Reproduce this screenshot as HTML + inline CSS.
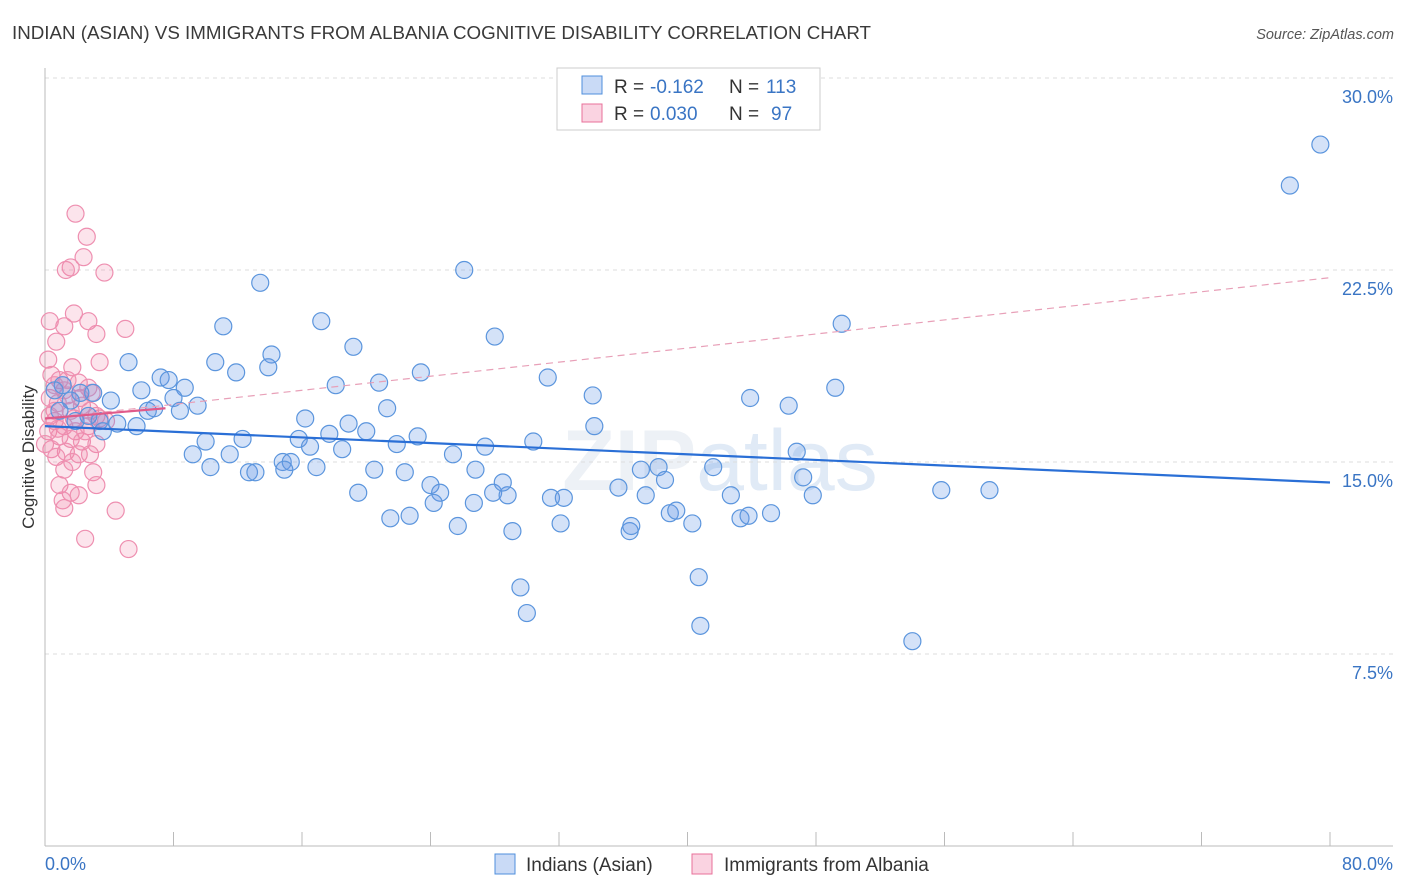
<!DOCTYPE html>
<html><head><meta charset="utf-8"><style>
body{margin:0;background:#fff;font-family:"Liberation Sans",sans-serif;}
svg{display:block}
</style></head><body>
<svg id="chart" width="1406" height="892" xmlns="http://www.w3.org/2000/svg" font-family="Liberation Sans, sans-serif">
<text x="12" y="39" font-size="18" fill="#3a3a3a" textLength="859" lengthAdjust="spacingAndGlyphs">INDIAN (ASIAN) VS IMMIGRANTS FROM ALBANIA COGNITIVE DISABILITY CORRELATION CHART</text>
<text x="1394" y="39" font-size="14.5" fill="#555" font-style="italic" text-anchor="end">Source: ZipAtlas.com</text>
<text x="720" y="490" font-size="86" fill="#edf1f6" text-anchor="middle" font-weight="bold">ZIP<tspan font-weight="normal" fill="#e0eaf6">atlas</tspan></text>
<g id="grid"></g>
<g id="axes"></g>
<g id="pinkpts"></g>
<g id="bluepts"></g>
<g id="trends"></g>
<g>
<rect x="557" y="68" width="263" height="62" fill="#fff" stroke="#ccc"/>
<rect x="582" y="76" width="20" height="18" fill="rgba(100,150,230,0.35)" stroke="#4f8fdc"/>
<rect x="582" y="104" width="20" height="18" fill="rgba(240,130,170,0.35)" stroke="#e8709a"/>
<text x="614" y="93" font-size="19" fill="#333">R = </text><text x="650" y="93" font-size="19" fill="#3a75c4">-0.162</text>
<text x="729" y="93" font-size="19" fill="#333">N = </text><text x="766" y="93" font-size="19" fill="#3a75c4">113</text>
<text x="614" y="120" font-size="19" fill="#333">R = </text><text x="650" y="120" font-size="19" fill="#3a75c4">0.030</text>
<text x="729" y="120" font-size="19" fill="#333">N = </text><text x="771" y="120" font-size="19" fill="#3a75c4">97</text>
</g>
<g>
<rect x="495" y="854" width="20" height="20" fill="rgba(100,150,230,0.35)" stroke="#4f8fdc"/>
<text x="526" y="871" font-size="19" fill="#333">Indians (Asian)</text>
<rect x="692" y="854" width="20" height="20" fill="rgba(240,130,170,0.35)" stroke="#e8709a"/>
<text x="724" y="871" font-size="19" fill="#333">Immigrants from Albania</text>
</g>
<text transform="translate(34,457) rotate(-90)" font-size="17" fill="#333" text-anchor="middle">Cognitive Disability</text>
</svg>
<script>
const yTicks=[7.5,15,22.5,30];
const yTickLabels=["7.5%","15.0%","22.5%","30.0%"];
const xTickLabels=["0.0%","80.0%"];
const blueX=[79.4,77.5,26.1,13.4,17.2,11.1,49.6,28.0,19.2,14.1,5.2,10.6,11.9,13.9,23.4,31.3,49.2,20.8,18.1,7.2,7.7,8.7,6.0,3.0,1.1,34.1,43.9,46.3,4.1,8.0,9.5,6.8,6.4,8.4,21.3,16.2,18.9,4.5,5.7,3.4,3.6,34.2,20.0,17.7,23.2,21.9,15.8,16.5,27.4,30.4,12.3,10.0,18.5,9.2,11.5,25.4,46.8,14.8,15.3,10.3,16.9,12.7,13.1,14.9,20.5,22.4,26.8,37.1,38.2,41.6,47.2,38.6,24.0,24.6,19.5,24.2,27.9,28.8,28.5,26.7,31.5,32.3,35.7,37.4,42.7,47.8,55.8,58.8,21.5,22.7,25.7,29.1,32.1,36.4,36.5,38.9,39.3,40.3,43.3,43.8,45.2,29.6,30.0,40.7,40.8,54.0,2.2,1.6,0.6,0.9,1.9,2.7];
const blueY=[27.4,25.8,22.5,22.0,20.5,20.3,20.4,19.9,19.5,19.2,18.9,18.9,18.5,18.7,18.5,18.3,17.9,18.1,18.0,18.3,18.2,17.9,17.8,17.7,18.0,17.6,17.5,17.2,17.4,17.5,17.2,17.1,17.0,17.0,17.1,16.7,16.5,16.5,16.4,16.6,16.2,16.4,16.2,16.1,16.0,15.7,15.9,15.6,15.6,15.8,15.9,15.8,15.5,15.3,15.3,15.3,15.4,15.0,15.0,14.8,14.8,14.6,14.6,14.7,14.7,14.6,14.7,14.7,14.8,14.8,14.4,14.3,14.1,13.8,13.8,13.4,13.8,13.7,14.2,13.4,13.6,13.6,14.0,13.7,13.7,13.7,13.9,13.9,12.8,12.9,12.5,12.3,12.6,12.3,12.5,13.0,13.1,12.6,12.8,12.9,13.0,10.1,9.1,10.5,8.6,8.0,17.7,17.4,17.8,17.0,16.6,16.8];
const pinkX=[1.9,2.6,2.4,1.6,1.3,3.7,1.8,0.3,2.7,1.2,5.0,3.2,0.7,0.2,1.7,3.4,0.4,0.9,2.1,2.7,1.2,2.9,0.3,0.8,1.6,2.3,3.2,0.6,1.2,1.9,2.7,0.2,0.9,1.6,2.3,3.2,0.4,1.3,2.1,2.8,0.7,1.7,1.2,3.0,3.2,0.9,1.6,2.1,1.1,1.2,4.4,2.5,5.2,0.6,1.4,2.2,0.3,0.8,2.5,0.0,1.8,2.8,1.4,0.6,3.4,3.8];
const pinkY=[24.7,23.8,23.0,22.6,22.5,22.4,20.8,20.5,20.5,20.3,20.2,20.0,19.7,19.0,18.7,18.9,18.4,18.2,18.1,17.9,17.8,17.7,17.5,17.3,17.0,17.2,16.8,16.6,16.4,16.2,16.4,16.2,16.0,15.9,15.8,15.7,15.5,15.4,15.3,15.3,15.2,15.0,14.7,14.6,14.1,14.1,13.8,13.7,13.5,13.2,13.1,12.0,11.6,17.0,17.6,17.5,16.8,16.3,16.2,15.7,16.7,17.0,18.2,18.0,16.7,16.6];
const blueTrend=[[0,16.4],[80,14.2]];
const pinkSolid=[[0,16.7],[7.5,17.1]];
const pinkDashed=[[0,16.7],[80,22.2]];
const NS="http://www.w3.org/2000/svg";
const sx=v=>45+v/80*1285, sy=v=>846-v/7.5*192;
function mk(tag,attrs,parent){const e=document.createElementNS(NS,tag);for(const k in attrs)e.setAttribute(k,attrs[k]);parent.appendChild(e);return e;}
const grid=document.getElementById('grid'),axes=document.getElementById('axes');
yTicks.forEach((t,i)=>{
 const l=mk('line',{x1:45,x2:1393,y1:sy(t),y2:sy(t),stroke:'#ddd','stroke-dasharray':'4,4'},grid);
 
 
 const tx=mk('text',{x:1393,y:sy(t)+25,'font-size':18,fill:'#3a75c4','text-anchor':'end'},axes);
 tx.textContent=yTickLabels[i];
 
 
});
mk('line',{x1:45,x2:45,y1:68,y2:846,stroke:'#bbb'},axes);
mk('line',{x1:45,x2:1393,y1:846,y2:846,stroke:'#bbb'},axes);
for(let i=0;i<=10;i++){const x=sx(i*8);const t=mk('line',{x1:x,x2:x,y1:832,y2:846,stroke:'#bbb'},axes);
 
 }
const x0=mk('text',{x:45,y:870,'font-size':18,fill:'#3a75c4'},axes);x0.textContent=xTickLabels[0];


const x1=mk('text',{x:1393,y:870,'font-size':18,fill:'#3a75c4','text-anchor':'end'},axes);x1.textContent=xTickLabels[1];


const pp=document.getElementById('pinkpts');
pinkX.forEach((v,i)=>{const c=mk('circle',{cx:sx(v),cy:sy(pinkY[i]),r:8.5,fill:'rgba(240,130,170,0.22)',stroke:'#ee8fb0','stroke-width':1.2},pp);
 
 });
const bp=document.getElementById('bluepts');
blueX.forEach((v,i)=>{const c=mk('circle',{cx:sx(v),cy:sy(blueY[i]),r:8.5,fill:'rgba(100,150,230,0.28)',stroke:'#5b95dd','stroke-width':1.2},bp);
 
 });
const tr=document.getElementById('trends');
const d=mk('line',{x1:sx(pinkDashed[0][0]),y1:sy(pinkDashed[0][1]),x2:sx(pinkDashed[1][0]),y2:sy(pinkDashed[1][1]),stroke:'#e8a0b8','stroke-width':1.2,'stroke-dasharray':'7,5'},tr);


const b=mk('line',{x1:sx(blueTrend[0][0]),y1:sy(blueTrend[0][1]),x2:sx(blueTrend[1][0]),y2:sy(blueTrend[1][1]),stroke:'#2a6fd6','stroke-width':2.2},tr);


const p=mk('line',{x1:sx(pinkSolid[0][0]),y1:sy(pinkSolid[0][1]),x2:sx(pinkSolid[1][0]),y2:sy(pinkSolid[1][1]),stroke:'#e05a8a','stroke-width':2.2},tr);


</script>
</body></html>
